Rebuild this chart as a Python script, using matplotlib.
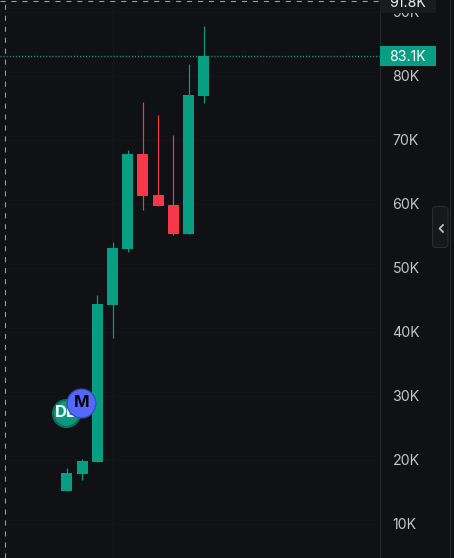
import matplotlib
matplotlib.use("Agg")
import matplotlib.pyplot as plt
import matplotlib.transforms as mtrans
from matplotlib.patches import Rectangle, FancyBboxPatch
from matplotlib.lines import Line2D

plt.rcParams['font.family'] = ['Inter', 'DejaVu Sans']
plt.rcParams['lines.scale_dashes'] = False

# Data, in thousands
opens  = [15.18, 17.83, 19.73, 44.23, 52.93, 67.83, 61.38, 59.83, 55.33, 76.83]
highs  = [18.73, 20.13, 45.73, 54.03, 68.43, 75.93, 73.88, 70.73, 81.83, 87.83]
lows   = [15.18, 16.83, 19.73, 39.03, 52.43, 59.03, 59.63, 55.13, 55.33, 75.73]
closes = [17.9, 19.83, 44.33, 53.13, 67.83, 61.23, 59.63, 55.33, 77.03, 83.1]
y_ticks = [10, 20, 30, 40, 50, 60, 70, 80, 90]
y_labels = ['10K', '20K', '30K', '40K', '50K', '60K', '70K', '80K', '90K']
last_price = 83.1
cross_price = 91.8
marker_db = (-0.03, 27.33, 'DB')
marker_m = (0.95, 28.88, 'M')

BG = '#0f1115'
UP = '#089e82'
DOWN = '#f7374a'
GRID = '#131519'
LINE = '#26282c'
TXT = '#c4c5c9'

W, H = 454, 558
fig = plt.figure(figsize=(W / 100, H / 100), dpi=100, facecolor=BG)
ax = fig.add_axes([0, 0, 380 / W, 1], facecolor=BG)
ax.set_xlim(-66.9 / 15.2, (380 - 66.9) / 15.2)
ax.set_ylim(4.66, 91.85)

# price scale
ax.yaxis.tick_right()
ax.set_yticks(y_ticks)
ax.set_yticklabels(y_labels)
ax.tick_params(axis='y', length=0, pad=9, labelsize=10.2, labelcolor=TXT)
ax.set_xticks([])
for s in ('top', 'left', 'bottom'):
    ax.spines[s].set_visible(False)
ax.spines['right'].set_color(LINE)
ax.spines['right'].set_linewidth(0.8)
ax.grid(axis='y', color=GRID, lw=0.8, zorder=0)
ax.axvline(3, color=GRID, lw=0.8, zorder=0)

# candles
for i, (o, h, l, c) in enumerate(zip(opens, highs, lows, closes)):
    col = UP if c >= o else DOWN
    ax.vlines(i, l, h, color=col, lw=0.85, zorder=2)
    ax.bar(i, abs(c - o), bottom=min(o, c), width=0.72, color=col, lw=0, zorder=3)

# last price and crosshair lines
ax.axhline(last_price, color='#0bb393', lw=1.0, ls=(0, (0.75, 1.45)), zorder=1)
ax.axhline(91.77, color='#9b9da1', lw=0.8, ls=(0, (3.7, 4.2)), zorder=4)
ax.axvline(-4.07, color='#9b9da1', lw=0.8, ls=(0, (3.7, 4.2)), zorder=4)

# event markers
ax.scatter([marker_db[0]], [marker_db[1]], s=440, color='#0d6f5c', lw=0, zorder=5)
ax.scatter([marker_db[0]], [marker_db[1]], s=310, color='#0a997d', lw=0, zorder=5.1)
ax.text(marker_db[0], marker_db[1], marker_db[2], color='white', fontsize=12,
        fontweight='bold', ha='center', va='center', zorder=5.2)
ax.scatter([marker_m[0]], [marker_m[1]], s=470, color='#3b4bb5', lw=0, zorder=6)
ax.scatter([marker_m[0]], [marker_m[1]], s=390, color='#5468ff', lw=0, zorder=6.1)
ax.text(marker_m[0], marker_m[1], marker_m[2], color='#07080c', fontsize=12,
        fontweight='bold', ha='center', va='center', zorder=6.2)

# overlays on the price scale: x in pixels, y in data
pix = mtrans.Affine2D().scale(1 / W, -1 / H).translate(0, 1) + fig.transFigure
bl = mtrans.blended_transform_factory(pix, ax.transData)
px_per_k = 6.4

fig.add_artist(Rectangle((380, last_price - 10 / px_per_k), 56, 20 / px_per_k,
                         transform=bl, facecolor=UP, lw=0, zorder=2))
fig.text(389, last_price, f'{last_price}K', transform=bl, color='white', fontsize=10.2,
         ha='left', va='center_baseline', zorder=3)
fig.add_artist(Rectangle((380, -2), 56, 15, transform=pix, facecolor='#1a1b1e', lw=0, zorder=2))
fig.text(389, 1.5, f'{cross_price}K', transform=pix, color='#f0f0f0', fontsize=10.2,
         ha='left', va='center_baseline', zorder=3)

# right edge and collapse button
fig.add_artist(Line2D([449.5, 449.5], [0, H], transform=pix, color=LINE, lw=0.8, zorder=1))
fig.add_artist(FancyBboxPatch((432.5, 206.5), 15.5, 41, boxstyle='round,pad=0,rounding_size=4',
                              transform=pix, facecolor='#16181c', edgecolor='#2a2c30',
                              lw=0.8, zorder=2, mutation_aspect=1))
fig.add_artist(Line2D([443, 439.5, 443], [225, 228.5, 232], transform=pix,
                      color='#c8c9ce', lw=1.2, zorder=3))

fig.savefig('out.png', dpi=100, facecolor=BG)
